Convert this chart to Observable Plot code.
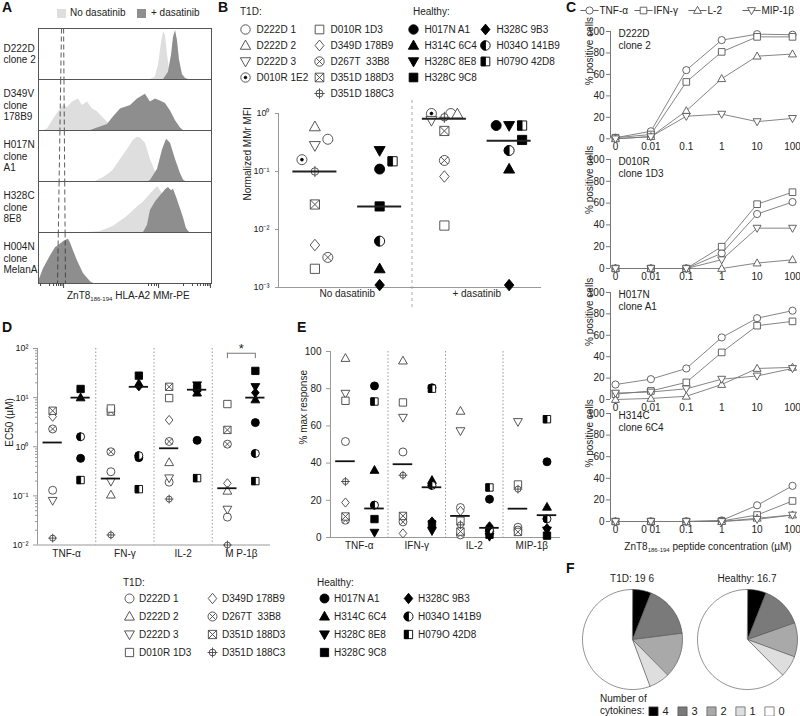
<!DOCTYPE html>
<html><head><meta charset="utf-8">
<script src="https://cdn.jsdelivr.net/npm/d3@7"></script>
<script src="https://cdn.jsdelivr.net/npm/@observablehq/plot@0.6"></script>
<style>
html,body{margin:0;padding:0;background:#fff;}
#fig{position:relative;width:800px;height:716px;overflow:hidden;font-family:"Liberation Sans",Arial,sans-serif;color:#222;}
.t{position:absolute;font-size:10px;white-space:nowrap;line-height:12px;}
.L{position:absolute;font-size:14px;font-weight:bold;line-height:14px;color:#111;}
.sw{position:absolute;width:9px;height:9px;}
sub{font-size:6px;vertical-align:-2px;}
</style></head>
<body><div id="fig"></div>
<script>
// ======================= DATA =======================
// ---- Panel A: MMr-PE histograms (x: fluorescence channel 0-100, y: normalised count)
const aRowLabels = ["D222D\nclone 2", "D349V\nclone\n178B9", "H017N\nclone\nA1", "H328C\nclone\n8E8", "H004N\nclone\nMelanA"];
const aNoDasatinib = [
  [[64.7,0],[67.6,0.05],[69.4,0.3],[71.1,0.75],[72.3,0.97],[73.4,0.9],[74.6,0.5],[75.7,0.2],[77.5,0.03],[79.2,0]],
  [[3,0],[5.2,0.03],[8.1,0.2],[11.6,0.38],[14.5,0.51],[16.8,0.47],[19.7,0.58],[23.1,0.64],[25.4,0.51],[28.3,0.58],[31.2,0.44],[34.1,0.38],[37.6,0.25],[40.5,0.15],[43.4,0.02],[45.1,0]],
  [[32.9,0],[37.6,0.08],[41.6,0.18],[43.4,0.24],[47.4,0.45],[51.4,0.65],[54.9,0.84],[57.2,0.9],[59,0.88],[61.8,0.78],[64.7,0.45],[67.6,0.2],[69.4,0.1],[71.7,0]],
  [[28.3,0],[35.8,0.02],[43.4,0.13],[51.4,0.33],[57.2,0.52],[60.7,0.62],[64.7,0.78],[68.8,0.94],[73.4,0.7],[77.5,0.3],[80.9,0]],
  [[0,0.02],[2.9,0.28],[6.9,0.55],[9.8,0.72],[12.7,0.8],[14.5,0.86],[15.6,0.88],[17.3,0.9],[18.5,0.83],[19.7,0.72],[22.5,0.47],[26,0.21],[30.1,0.04],[31.8,0]]
];
const aDasatinib = [
  [[72.3,0],[75.1,0.15],[76.9,0.5],[78,0.85],[79.2,1.0],[80.3,0.8],[81.5,0.4],[83.2,0.1],[85,0.02],[86.7,0]],
  [[30.1,0],[34.1,0.05],[39.9,0.12],[43.4,0.28],[47.4,0.44],[53.2,0.51],[57.2,0.64],[61.8,0.74],[64.7,0.58],[67.6,0.64],[70.5,0.6],[73.4,0.55],[76.3,0.4],[79.2,0.2],[82.1,0.05],[83.8,0]],
  [[63.6,0],[64.7,0.02],[68.8,0.25],[71.7,0.65],[74,0.86],[76.3,0.78],[79.2,0.45],[82.1,0.16],[83.8,0.03],[85,0]],
  [[60.7,0],[63,0.15],[64.7,0.45],[67.6,0.62],[70.5,0.75],[72.3,0.82],[73.4,0.87],[75.1,0.92],[76.9,0.85],[78,0.88],[79.8,0.72],[82.1,0.48],[83.8,0.3],[85.5,0.08],[87.3,0]],
  [[0,0.03],[2.9,0.3],[6.9,0.56],[9.8,0.73],[12.7,0.8],[14.5,0.85],[15.6,0.87],[17.3,0.9],[18.5,0.82],[19.7,0.71],[22.5,0.46],[26,0.2],[30.1,0.03],[31.8,0]]
];
const aGateLines = [[13.3, 11.0], [14.5, 15.6]]; // channel value at top / bottom of panel
const aMajorTicks = [14.5, 69.4, 99.4];
const aMinorTicks = [1.2, 6.4, 8.7, 10.4, 11.6, 12.7, 13.6, 63.6, 65.3, 67, 68.2, 83.8, 89, 91.9, 93.6, 95.4, 96.5, 97.7, 98.6];

// ---- Clones
const t1dClones = ["D222D 1","D222D 2","D222D 3","D010R 1E2","D010R 1D3","D349D 178B9","D267T\u00a0 33B8","D351D 188D3","D351D 188C3"];
const healthyClones = ["H017N A1","H314C 6C4","H328C 8E8","H328C 9C8","H328C 9B3","H034O 141B9","H079O 42D8"];
const t1dClonesDE = t1dClones.filter(c => c !== "D010R 1E2");

// ---- Panel B: normalized MMr MFI
const bGroups = ["No dasatinib", "+ dasatinib"];
const bT1DNoDas = [0.36, 0.59, 0.28, 0.16, 0.0021, 0.0054, 0.0033, 0.027, 0.10];
const bT1DNoDasCol = [1, 0, 0, -1, 0, 0, 1, 0, 0];
const bHealthyNoDas = [0.11, 0.0021, 0.23, 0.025, 0.0011, 0.0063, 0.15];
const bHealthyNoDasCol = [0, 0, 0, 0, 0, 0, 1];
const bT1DDas = [1.0, 0.98, 0.76, 1.0, 0.0117, 0.082, 0.155, 0.50, 0.86];
const bT1DDasCol = [0.5, 1, -1, -1, 0, 0, 0, 0, 0];
const bHealthyDas = [0.62, 0.11, 0.62, 0.35, 0.0011, 0.23, 0.62];
const bHealthyDasCol = [-1, 0, 0, 1, 0, 0, 1];
const bMedians = [0.10, 0.025, 0.81, 0.34];

// ---- Panel C: % positive cells vs peptide concentration
const cConc = ["0","0.01","0.1","1","10","100"];
const cConcLabels4 = ["0","0 01","0.1","1","10","100"];
const cCytokines = ["TNF-α","IFN-γ","L-2","MIP-1β"];
const cTitles = ["D222D\nclone 2","D010R\nclone 1D3","H017N\nclone A1","H314C\nclone 6C4"];
const cD222D = [[1,7,64,92,97.5,97],[1,4,53,81,95,95],[0,2,26,56,77,79],[0,2,21,23,16,19]];
const cD010R = [[0,0,0,14,50,61],[0,0,0,20,59,70],[0,0,0,0,5,8],[0,0,0,8,37,37]];
const cH017N = [[14,19,29,58,76,83],[5,8,16,44,69,73],[0,1,3,14,29,30],[6,7,10,19,22,29]];
const cH314C = [[0,0,0,1,15,33],[0,0,0,0.5,6,19],[0,0,0,0,3,6],[0,0,0,0,2,6]];

// ---- Panel D: EC50 (µM); rows = cytokines, order of t1dClonesDE / healthyClones
const dCategories = ["TNF-α","FN-γ","IL-2","M P-1β"];
const dT1D = [
  [0.13, null, 0.08, null, 4.1, 2.3, 5.4, 0.0138],
  [0.31, 0.105, 0.196, 6.0, null, 0.79, 5.2, 0.016],
  [0.19, 0.48, 0.23, 9.8, 3.5, 1.28, 16.6, 0.086],
  [0.037, 0.126, 0.053, 7.4, 0.18, 1.13, 2.2, 0.01]
];
const dHealthy = [
  [0.58, 10, null, 15, null, 1.6, 0.21],
  [0.6, 19.5, null, 28, 17, 0.66, 0.137],
  [1.35, 12.5, 18, 15.5, 14, null, 0.23],
  [3.1, 9.1, 16.6, 35, 12.6, 0.73, 0.20]
];
const dMedT1D = [1.22, 0.225, 0.93, 0.143];
const dMedHealthy = [10, 16.6, 14.5, 10];
const dSigLevel = [80, 62]; // bracket level and tick end
const dSigLabel = "*";

// ---- Panel E: % max response
const eCategories = ["TNF-α","IFN-γ","IL-2","MIP-1β"];
const eT1D = [
  [51.6, 96.4, 77.4, 73.5, 18.8, 9.3, 11.3, 30.1],
  [46, 95, 64.5, 72.6, 2.2, 8.4, 11.6, 33.5],
  [16.1, 68, 57.3, 9, 14.3, 1.4, 3.2, 6.8],
  [5.5, null, 62.2, 28.5, null, 4, 3, 26]
];
const eHealthy = [
  [81.5, 36.2, 2.7, 9.9, null, 17.4, 73.1],
  [80.5, 30.8, 3.6, 7.2, 8.6, 28, 80],
  [20.6, 5, 0.5, 1.5, 6, 4, 26.9],
  [40.7, 16.4, 3.9, 1, 5, 10, 63.6]
];
const eMedT1D = [41, 39.4, 11.6, 15.5];
const eMedHealthy = [15.6, 27, 5.2, 12];

// ---- Panel F: number of cytokines (pie shares, %)
const fCounts = ["4","3","2","1","0"];
const fT1D = [6.0, 17.0, 14.6, 6.7, 55.7];
const fHealthy = [6.0, 13.6, 11.0, 7.0, 62.4];
const fTitles = ["T1D: 19 6", "Healthy: 16.7"];
const fColors = ["#000000", "#7a7a7a", "#a9a9a9", "#dedede", "#ffffff"];

// ======================= HELPERS =======================
const fig = document.getElementById("fig");
const SVGSTYLE = "background:transparent;overflow:visible;font-family:'Liberation Sans',Arial,sans-serif;font-size:10px;color:#222;";
function place(node, left, top) {
  const d = document.createElement("div");
  d.style.cssText = `position:absolute;left:${left}px;top:${top}px;`;
  d.appendChild(node); fig.appendChild(d);
}
function txt(html, left, top, cls = "t", extra = "") {
  const d = document.createElement("div"); d.className = cls;
  d.style.cssText = `left:${left}px;top:${top}px;${extra}`;
  d.innerHTML = html; fig.appendChild(d);
}
function sym(fn) { return {draw(ctx, size) { fn(ctx, Math.sqrt(size / Math.PI)); }}; }
const circ = (c, r) => { c.moveTo(r, 0); c.arc(0, 0, r, 0, 2 * Math.PI); c.closePath(); };
const SYM = {
  circle: sym((c, r) => circ(c, r)),
  triUp: sym((c, r) => { c.moveTo(0, -r * 1.15); c.lineTo(r * 1.1, r * 0.8); c.lineTo(-r * 1.1, r * 0.8); c.closePath(); }),
  triDown: sym((c, r) => { c.moveTo(0, r * 1.15); c.lineTo(r * 1.1, -r * 0.8); c.lineTo(-r * 1.1, -r * 0.8); c.closePath(); }),
  square: sym((c, r) => { const s = r * 0.92; c.rect(-s, -s, 2 * s, 2 * s); }),
  diamond: sym((c, r) => { c.moveTo(0, -r * 1.15); c.lineTo(r * 0.95, 0); c.lineTo(0, r * 1.15); c.lineTo(-r * 0.95, 0); c.closePath(); }),
  circleX: sym((c, r) => { circ(c, r); const k = r * 0.7071; c.moveTo(-k, -k); c.lineTo(k, k); c.moveTo(k, -k); c.lineTo(-k, k); }),
  squareX: sym((c, r) => { const s = r * 0.92; c.rect(-s, -s, 2 * s, 2 * s); c.moveTo(-s, -s); c.lineTo(s, s); c.moveTo(s, -s); c.lineTo(-s, s); }),
  circlePlus: sym((c, r) => { circ(c, r * 0.75); c.moveTo(-r * 1.1, 0); c.lineTo(r * 1.1, 0); c.moveTo(0, -r * 1.1); c.lineTo(0, r * 1.1); }),
  dot: sym((c, r) => circ(c, r * 0.28)),
  halfCircle: sym((c, r) => { c.moveTo(0, -r); c.arc(0, 0, r, -Math.PI / 2, Math.PI / 2, true); c.closePath(); }),
  halfSquare: sym((c, r) => { const s = r * 0.92; c.rect(-s, -s, s, 2 * s); }),
  hline: sym((c, r) => { c.moveTo(-r * 2.6, 0); c.lineTo(r * 2.6, 0); })
};
const STYLE = {};
[["circle"],["triUp"],["triDown"],["circle","dot"],["square"],["diamond"],["circleX"],["squareX"],["circlePlus"]]
  .forEach(([shape, over], i) => STYLE[t1dClones[i]] = {shape, fill: "white", stroke: "#444", over});
[["circle","black"],["triUp","black"],["triDown","black"],["square","black"],["diamond","black"],["circle","white","halfCircle"],["square","white","halfSquare"]]
  .forEach(([shape, fill, over], i) => STYLE[healthyClones[i]] = {shape, fill, stroke: "#000", over});

function symbolMarks(data, opts) {
  const marks = [];
  for (const [key, arr] of d3.groups(data, d => [STYLE[d.clone].shape, STYLE[d.clone].fill, STYLE[d.clone].stroke].join("|"))) {
    const [shape, fill, stroke] = key.split("|");
    marks.push(Plot.dot(arr, {...opts, symbol: SYM[shape], fill, stroke, strokeWidth: 0.9}));
  }
  for (const [shape, arr] of d3.groups(data.filter(d => STYLE[d.clone].over), d => STYLE[d.clone].over))
    marks.push(Plot.dot(arr, {...opts, symbol: SYM[shape], fill: "#000", stroke: "#000", strokeWidth: 0.8}));
  return marks;
}
const SUP = {"-": "⁻", "0": "⁰", "1": "¹", "2": "²", "3": "³"};
const pow10 = d => "10" + String(Math.round(Math.log10(d))).split("").map(c => SUP[c]).join("");
const blank = () => "";

// ======================= PANEL A =======================
const aLight = [], aDark = [], aGate = [];
aNoDasatinib.forEach((c, row) => c.forEach(([x, y]) => aLight.push({row, x, y})));
aDasatinib.forEach((c, row) => c.forEach(([x, y]) => aDark.push({row, x, y})));
aRowLabels.forEach((_, row) => aGateLines.forEach(([t, b]) => aGate.push({row, x1: t + (b - t) * row / 5, x2: t + (b - t) * (row + 1) / 5})));
const plotA = Plot.plot({
  width: 215, height: 300, marginLeft: 38, marginRight: 4, marginTop: 27, marginBottom: 16,
  style: SVGSTYLE,
  x: {domain: [0, 100], label: null},
  y: {domain: [0, 1.04], axis: null, label: null},
  fy: {domain: [0, 1, 2, 3, 4], padding: 0, axis: null, label: null},
  marks: [
    Plot.areaY(aLight, {x: "x", y: "y", fy: "row", fill: "#dedede"}),
    Plot.areaY(aDark, {x: "x", y: "y", fy: "row", fill: "#8e8e8e"}),
    Plot.link(aGate, {x1: "x1", x2: "x2", y1: () => 1.04, y2: () => 0, fy: "row", stroke: "#333", strokeWidth: 0.8, strokeDasharray: "5,3"}),
    Plot.frame({stroke: "#555"}),
    Plot.text(aRowLabels.map((t, row) => ({t, row})), {fy: "row", text: "t", frameAnchor: "left", dx: -35, textAnchor: "start", lineHeight: 1.13, fontSize: 10}),
    Plot.axisX({ticks: aMinorTicks, tickSize: 3, tickFormat: blank, stroke: "#444"}),
    Plot.axisX({ticks: aMajorTicks, tickSize: 5, tickFormat: blank, stroke: "#444"})
  ]
});
place(plotA, 0, 0);
txt("A", 2, 0, "L");
txt("", 57, 9, "sw", "background:#dedede;");
txt("No dasatinib", 70, 7);
txt("", 137, 9, "sw", "background:#8e8e8e;");
txt("+ dasatinib", 151, 7);
txt("ZnT8<sub>186-194</sub> HLA-A2 MMr-PE", 67, 290);

// ======================= PANEL B =======================
const bSlots = [0.5, 1.5, 2.5, 3.5];
function bRows(clones, vals, cols, pos) { return clones.map((clone, i) => ({clone, v: vals[i], pos: pos + cols[i] * 0.2})); }
const bPoints = [
  ...bRows(t1dClones, bT1DNoDas, bT1DNoDasCol, bSlots[0]),
  ...bRows(healthyClones, bHealthyNoDas, bHealthyNoDasCol, bSlots[1]),
  ...bRows(t1dClones, bT1DDas, bT1DDasCol, bSlots[2]),
  ...bRows(healthyClones, bHealthyDas, bHealthyDasCol, bSlots[3])
];
const bMed = bMedians.map((v, i) => ({v, pos: bSlots[i]}));
const plotB = Plot.plot({
  width: 312, height: 207, marginLeft: 48, marginRight: 1, marginTop: 13, marginBottom: 20,
  style: SVGSTYLE,
  x: {domain: [-0.062, 4], axis: null, label: null},
  y: {type: "log", domain: [1e-3, 1], axis: null, label: null},
  marks: [
    Plot.ruleX([2], {stroke: "#aaa", strokeDasharray: "3,3", insetTop: -13, insetBottom: -20}),
    Plot.ruleY([1e-3], {stroke: "#999"}),
    Plot.ruleX([-0.062], {stroke: "#999"}),
    Plot.axisY({ticks: [1e-3, 1e-2, 1e-1, 1], tickFormat: pow10, tickSize: 3, stroke: "#999", fontSize: 9}),
    Plot.text(bGroups, {x: (d, i) => 1 + 2 * i, frameAnchor: "bottom", dy: 9, fontSize: 10}),
    Plot.text(["Normalized MMr MFI"], {frameAnchor: "left", dx: -31, rotate: -90, fontSize: 10}),
    ...symbolMarks(bPoints, {x: "pos", y: "v", r: 5}),
    Plot.ruleY(bMed, {x1: d => d.pos - 0.34, x2: d => d.pos + 0.34, y: "v", stroke: "#222", strokeWidth: 2})
  ]
});
place(plotB, 230, 100);
txt("B", 218, 0, "L");
txt("T1D:", 240, 6);
txt("Healthy:", 413, 6);

function cloneLegend(clones, left, top, width, height, xr, yr, r, dx) {
  const data = clones.map((clone, i) => ({clone, col: i < 4 ? 0 : 1, row: i < 4 ? i : i - 4}));
  const p = Plot.plot({
    width, height, margin: 0, style: SVGSTYLE,
    x: {type: "point", domain: [0, 1], range: xr, padding: 0, axis: null, label: null},
    y: {type: "point", domain: [0, 1, 2, 3, 4], range: yr, padding: 0, axis: null, label: null},
    marks: [
      ...symbolMarks(data, {x: "col", y: "row", r}),
      Plot.text(data, {x: "col", y: "row", text: "clone", dx, textAnchor: "start", fontSize: 10})
    ]
  });
  place(p, left, top);
}
cloneLegend(t1dClones, 235, 18, 160, 90, [10, 84], [10, 75], 4.7, 11);
cloneLegend(healthyClones, 403, 18, 140, 90, [10, 82], [10, 75], 4.7, 11);

// ======================= PANEL C =======================
const cAll = [cD222D, cD010R, cH017N, cH314C];
const cTop = [30.7, 159, 292, 413];
const cH = [107.3, 109, 107, 108];
const cShapes = ["circle", "square", "triUp", "triDown"];
cAll.forEach((tbl, k) => {
  const data = [];
  cCytokines.forEach((cy, j) => tbl[j].forEach((v, i) => data.push({cy, i, v})));
  const labels = k === 3 ? cConcLabels4 : cConc;
  const p = Plot.plot({
    width: 250, height: 10 + cH[k] + 18, marginLeft: 60, marginRight: 3, marginTop: 10, marginBottom: 18,
    style: SVGSTYLE,
    x: {domain: [-0.141, 5.141], axis: null, label: null},
    y: {domain: [0, 100], axis: null, label: null},
    marks: [
      Plot.ruleX([-0.141], {stroke: "#777"}),
      Plot.axisY({ticks: [0, 20, 40, 60, 80, 100], tickSize: 4, stroke: "#777", fontSize: 10, tickPadding: 2}),
      Plot.axisX({ticks: [0, 1, 2, 3, 4, 5], tickFormat: i => labels[i], tickSize: 0, tickPadding: 4, fontSize: 10}),
      Plot.text(["% positive cells"], {frameAnchor: "left", dx: -21, rotate: -90, fontSize: 10}),
      Plot.text([cTitles[k]], {frameAnchor: "top-left", dx: 8, dy: -2, lineAnchor: "top", textAnchor: "start", lineHeight: 1.12, fontSize: 10}),
      Plot.line(data, {x: "i", y: "v", z: "cy", stroke: "#777", strokeWidth: 0.9}),
      ...cCytokines.map((cy, j) => Plot.dot(data.filter(d => d.cy === cy), {x: "i", y: "v", r: 3.6, symbol: SYM[cShapes[j]], fill: "white", stroke: "#555", strokeWidth: 0.9}))
    ]
  });
  place(p, 550, cTop[k] - 10);
});
const legendC = Plot.plot({
  width: 240, height: 20, margin: 0, style: SVGSTYLE,
  x: {type: "point", domain: cCytokines, range: [29, 191], padding: 0, axis: null, label: null},
  marks: [
    Plot.dot(cCytokines, {x: d => d, r: 3.5, symbol: SYM.hline, stroke: "#555", strokeWidth: 0.9}),
    ...cCytokines.map((cy, j) => Plot.dot([cy], {x: d => d, r: 3.6, symbol: SYM[cShapes[j]], fill: "white", stroke: "#555", strokeWidth: 0.9})),
    Plot.text(cCytokines, {x: d => d, dx: 10, textAnchor: "start", fontSize: 10})
  ]
});
place(legendC, 560, 0);
txt("C", 566, 0, "L");
txt("ZnT8<sub>186-194</sub> peptide concentration (µM)", 588, 541, "t", "width:240px;text-align:center;");

// ======================= PANEL D =======================
const T1D_OFF = 0.26, H_OFF = 0.74;
function catPoints(clones, table, off) {
  const out = [];
  table.forEach((vals, s) => vals.forEach((v, i) => { if (v != null) out.push({clone: clones[i], v, pos: s + off}); }));
  return out;
}
const dPoints = [...catPoints(t1dClonesDE, dT1D, T1D_OFF), ...catPoints(healthyClones, dHealthy, H_OFF)];
const dMed = [...dMedT1D.map((v, s) => ({v, pos: s + T1D_OFF})), ...dMedHealthy.map((v, s) => ({v, pos: s + H_OFF}))];
const minorD = [];
for (let e = -2; e < 2; e++) for (let k = 2; k < 10; k++) minorD.push(k * 10 ** e);
const sigX1 = 3 + T1D_OFF, sigX2 = 3 + H_OFF;
const plotD = Plot.plot({
  width: 280, height: 234, marginLeft: 37, marginRight: 10, marginTop: 18, marginBottom: 19.5,
  style: SVGSTYLE,
  x: {domain: [0, 4], axis: null, label: null},
  y: {type: "log", domain: [0.01, 100], axis: null, label: null},
  marks: [
    Plot.ruleX([1, 2, 3], {stroke: "#999", strokeDasharray: "1.5,2"}),
    Plot.ruleY([0.01], {stroke: "#999"}),
    Plot.ruleX([0], {stroke: "#999"}),
    Plot.axisY({ticks: [0.01, 0.1, 1, 10, 100], tickFormat: pow10, tickSize: 4, stroke: "#999", fontSize: 9}),
    Plot.axisY({ticks: minorD, tickSize: 2, tickFormat: blank, stroke: "#999"}),
    Plot.text(dCategories, {x: (d, i) => i + 0.5, frameAnchor: "bottom", dy: 12, fontSize: 10}),
    Plot.text(["EC50 (µM)"], {frameAnchor: "left", dx: -28, rotate: -90, fontSize: 10}),
    ...symbolMarks(dPoints, {x: "pos", y: "v", r: 4}),
    Plot.ruleY(dMed, {x1: d => d.pos - 0.165, x2: d => d.pos + 0.165, y: "v", stroke: "#111", strokeWidth: 1.8}),
    Plot.ruleY([dSigLevel[0]], {x1: sigX1, x2: sigX2, stroke: "#777"}),
    Plot.ruleX([sigX1, sigX2], {y1: dSigLevel[1], y2: dSigLevel[0], stroke: "#777"}),
    Plot.text([dSigLabel], {x: 3.5, y: dSigLevel[0], dy: -4, fontSize: 13})
  ]
});
place(plotD, 0, 330);
txt("D", 2, 320, "L");
txt("T1D:", 123, 577);
txt("Healthy:", 317, 577);
cloneLegend(t1dClonesDE, 119, 588, 200, 85, [10, 93], [10, 82], 4.5, 9.5);
cloneLegend(healthyClones, 314, 588, 190, 85, [10, 94], [10, 82], 4.5, 9.5);

// ======================= PANEL E =======================
const E_T1D = 0.26, E_H = 0.765;
const ePoints = [...catPoints(t1dClonesDE, eT1D, E_T1D), ...catPoints(healthyClones, eHealthy, E_H)];
const eMed = [...eMedT1D.map((v, s) => ({v, pos: s + E_T1D})), ...eMedHealthy.map((v, s) => ({v, pos: s + E_H}))];
const plotE = Plot.plot({
  width: 285, height: 227, marginLeft: 50, marginRight: 5, marginTop: 21, marginBottom: 20,
  style: SVGSTYLE,
  x: {domain: [0, 4], axis: null, label: null},
  y: {domain: [0, 100], axis: null, label: null},
  marks: [
    Plot.ruleX([1, 2, 3], {stroke: "#999", strokeDasharray: "1.5,2"}),
    Plot.ruleY([0], {stroke: "#999"}),
    Plot.ruleX([0], {stroke: "#999"}),
    Plot.axisY({ticks: [0, 20, 40, 60, 80, 100], tickSize: 4, stroke: "#999", fontSize: 10}),
    Plot.text(eCategories, {x: (d, i) => i + 0.5, frameAnchor: "bottom", dy: 11, fontSize: 10}),
    Plot.text(["% max response"], {frameAnchor: "left", dx: -27, rotate: -90, fontSize: 10}),
    ...symbolMarks(ePoints, {x: "pos", y: "v", r: 4}),
    Plot.ruleY(eMed, {x1: d => d.pos - 0.17, x2: d => d.pos + 0.17, y: "v", stroke: "#111", strokeWidth: 1.8})
  ]
});
place(plotE, 280, 330);
txt("E", 297, 320, "L");

// ======================= PANEL F =======================
function pieFeatures(values) {
  const total = d3.sum(values);
  let a0 = 0;
  return values.map((v, i) => {
    const a1 = a0 + v / total * 2 * Math.PI;
    const n = Math.max(2, Math.ceil((a1 - a0) / 0.03));
    const ring = [[0, 0]];
    for (let k = 0; k <= n; k++) { const a = a0 + (a1 - a0) * k / n; ring.push([Math.sin(a), -Math.cos(a)]); }
    ring.push([0, 0]);
    a0 = a1;
    return {type: "Feature", properties: {n: fCounts[i]}, geometry: {type: "Polygon", coordinates: [ring]}};
  });
}
[[fT1D, 580], [fHealthy, 695]].forEach(([vals, left], k) => {
  const p = Plot.plot({
    width: 104, height: 104, margin: 2, style: SVGSTYLE,
    projection: {type: "identity", domain: {type: "MultiPoint", coordinates: [[-1, -1], [1, 1]]}},
    color: {domain: fCounts, range: fColors},
    marks: [Plot.geo(pieFeatures(vals), {fill: d => d.properties.n, stroke: "#444", strokeWidth: 0.6})]
  });
  place(p, left, 587);
  txt(fTitles[k], left - 8, 573, "t", "width:120px;text-align:center;");
});
const legendF = Plot.plot({
  width: 150, height: 18, margin: 0, style: SVGSTYLE,
  x: {type: "point", domain: fCounts, range: [12, 129], padding: 0, axis: null, label: null},
  color: {domain: fCounts, range: fColors},
  marks: [
    Plot.dot(fCounts, {x: d => d, fill: d => d, r: 5, symbol: SYM.square, stroke: "#555", strokeWidth: 0.7}),
    Plot.text(fCounts, {x: d => d, dx: 9, textAnchor: "start", fontSize: 11})
  ]
});
place(legendF, 640, 702);
txt("F", 566, 561, "L");
txt("Number of", 600, 693);
txt("cytokines:", 600, 705);
</script></body></html>
